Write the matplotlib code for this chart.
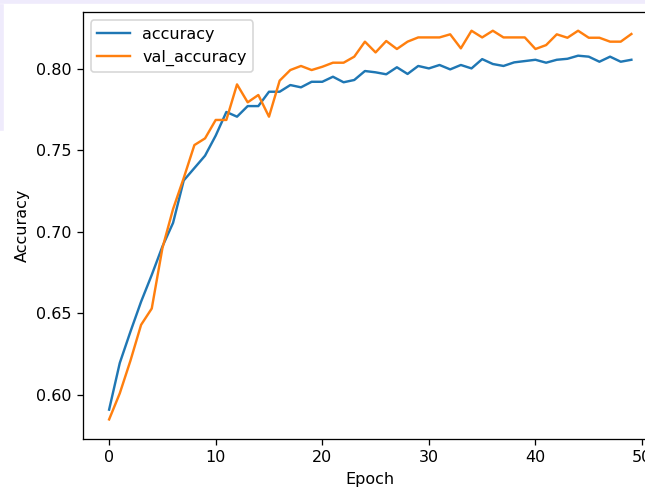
import matplotlib
matplotlib.use("Agg")
import matplotlib.pyplot as plt
from matplotlib.patches import Rectangle

epochs = list(range(50))
accuracy = [0.591, 0.6196, 0.6388, 0.6572, 0.6736, 0.691, 0.7055, 0.7315, 0.7391, 0.7467,
            0.759, 0.7735, 0.7706, 0.7771, 0.7771, 0.7859, 0.7859, 0.790, 0.7886, 0.792,
            0.792, 0.7951, 0.7917, 0.7931, 0.7986, 0.7978, 0.7966, 0.8009, 0.7968, 0.8017,
            0.8002, 0.8023, 0.7996, 0.8023, 0.8002, 0.8059, 0.8029, 0.8017, 0.8039, 0.8047,
            0.8055, 0.8037, 0.8055, 0.8061, 0.808, 0.8074, 0.8043, 0.8074, 0.8043, 0.8055]
val_accuracy = [0.585, 0.601, 0.621, 0.643, 0.653, 0.690, 0.714, 0.733, 0.7532, 0.7573,
                0.7686, 0.7686, 0.7904, 0.7794, 0.7839, 0.7706, 0.7927, 0.7992, 0.8017, 0.7992,
                0.8012, 0.8037, 0.8037, 0.8074, 0.8166, 0.8100, 0.8170, 0.8121, 0.8166, 0.8192,
                0.8192, 0.8192, 0.8211, 0.8125, 0.8233, 0.8192, 0.8233, 0.8192, 0.8192, 0.8192,
                0.8121, 0.8145, 0.8211, 0.8190, 0.8233, 0.8190, 0.8190, 0.8166, 0.8166, 0.8213]
yticks = [0.60, 0.65, 0.70, 0.75, 0.80]
xticks = [0, 10, 20, 30, 40, 50]

W, H = 645, 489
DPI = 115.7
fig = plt.figure(figsize=(W / DPI, H / DPI), dpi=DPI)

# faint screenshot border artifacts
fig.patches.append(Rectangle((0, 1 - 3 / H), 1, 3 / H, transform=fig.transFigure,
                             color="#efebfc", zorder=0))
fig.patches.append(Rectangle((0, 1 - 130 / H), 3 / W, 125 / H, transform=fig.transFigure,
                             color="#efebfc", zorder=0))

left, right, top, bottom = 83, 657.5, 12.3, 439
ax = fig.add_axes([left / W, (H - bottom) / H, (right - left) / W, (bottom - top) / H])
ax.plot(epochs, accuracy, label="accuracy")
ax.plot(epochs, val_accuracy, label="val_accuracy")
ax.set_xlim(-2.45, 51.45)
ax.set_ylim(0.573, 0.8346)
ax.set_xticks(xticks)
ax.set_yticks(yticks)
ax.set_yticklabels([f"{v:.2f}" for v in yticks])
ax.set_xlabel("Epoch")
ax.set_ylabel("Accuracy")
ax.legend(loc="upper left")

fig.savefig("out.png", dpi=DPI)
